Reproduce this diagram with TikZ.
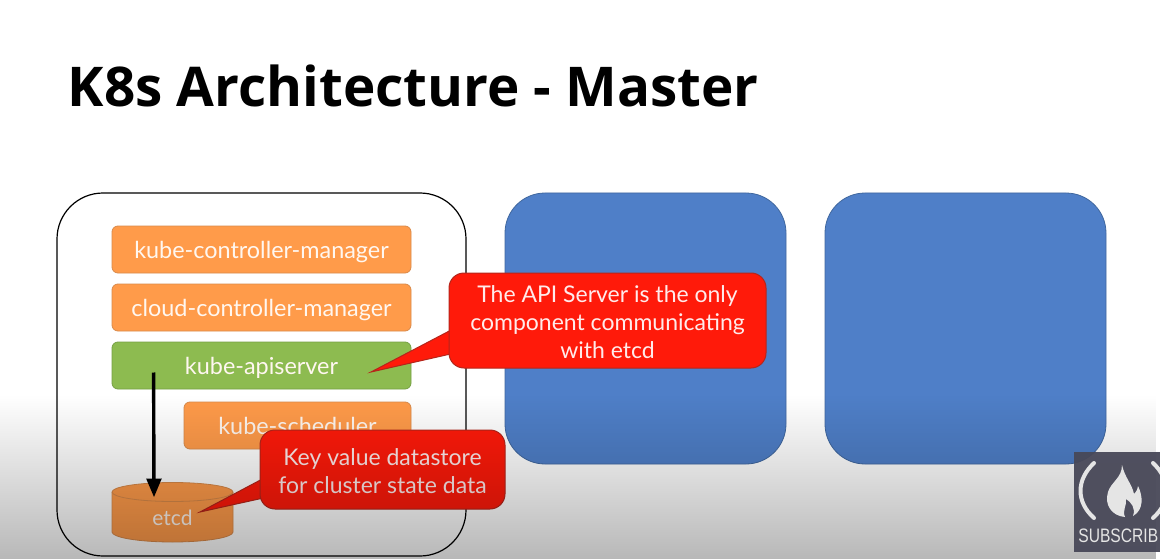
\documentclass[tikz,border=0pt]{standalone}
\usepackage{fontspec}
\setmainfont{Lato}
\newfontfamily\titlefont{Open Sans}
\newfontfamily\badgefont[FakeStretch=0.8]{Liberation Sans}
\usetikzlibrary{positioning}
\usetikzlibrary{arrows,fadings}
\definecolor{orangebox}{HTML}{FF9B4A}
\definecolor{orangeline}{HTML}{D98A4A}
\definecolor{greenbox}{HTML}{8DBB50}
\definecolor{greenline}{HTML}{76A044}
\definecolor{bluebox}{HTML}{4F7FC8}
\definecolor{blueline}{HTML}{41689F}
\definecolor{redbox}{HTML}{FF1A0A}
\definecolor{redline}{HTML}{B5261B}
\definecolor{badge}{HTML}{484858}
\tikzfading[name=fade floor, top color=transparent!100, bottom color=transparent!72]
\newcommand{\notestrut}{\rule{0pt}{20pt}}
\tikzset{%
  block/.style    = {draw=orangeline, fill=orangebox, rounded corners=6pt, inner sep=0pt,
    minimum height=47pt, minimum width=299pt, text=white!94!orange, text height=21pt, text depth=4pt,
    font=\fontsize{23.4}{28}\selectfont},
  apiblock/.style = {block, draw=greenline, fill=greenbox},
  server/.style   = {draw=blueline, fill=bluebox, rounded corners=40pt, minimum width=281pt,
    minimum height=271pt},
  master/.style   = {draw=black, line width=1.2pt, fill=white, rounded corners=46pt,
    minimum width=409pt, minimum height=363pt},
  note/.style     = {draw=redline, fill=redbox, line width=1pt, rounded corners=15pt, align=center,
    text=white!92!red, font=\fontsize{23}{28}\selectfont},
  pointer/.style  = {draw=redline, fill=redbox, line width=1pt, line join=miter},
  datastore/.style = {draw=orangeline, fill=orangebox, line width=0.8pt},
  storelabel/.style = {text=white!94!orange, font=\fontsize{21}{26}\selectfont}
}
\begin{document}
\begin{tikzpicture}[x=1pt, y=-1pt, thick, >=triangle 45]
  \useasboundingbox (0,0) rectangle (1160,559);
  \fill[white] (0,0) rectangle (1160,559);

  \draw node at (64,86) [anchor=west, font=\titlefont\bfseries\fontsize{54.8}{60}\selectfont] (title) {K8s Architecture - Master};

  \draw node at (261.5,374.5) [master] (box) {};
  \draw node at (645.5,328.5) [server] (worker) {};
  \draw node at (965.5,328.5) [server] (worker2) {};

  \draw node at (261.5,249.5) [block] (controller) {kube-controller-manager};
  \draw node [block, below=10.2pt of controller] (cloud) {cloud-controller-manager};
  \draw node [apiblock, below=10.2pt of cloud] (apiserver) {kube-apiserver};
  \draw node at (297.5,425.5) [block, minimum width=227pt] (scheduler) {kube-scheduler};

  % etcd can
  \draw[datastore] (112,492) -- (112,532) arc[start angle=180, end angle=0, x radius=60.5, y radius=10]
    -- (233,492) arc[start angle=0, end angle=-180, x radius=60.5, y radius=9.5] -- cycle;
  \draw[datastore] (112,492) arc[start angle=180, end angle=0, x radius=60.5, y radius=9.5];
  \draw node at (172.5,518) [storelabel] (etcd) {etcd};

  % arrow goes down from inside the api box
  \coordinate (apitap) at ([xshift=42pt, yshift=-7pt]apiserver.west);
  \coordinate (etcdtap) at (154,497);
  \draw[->, line width=3.4pt] (apitap) -- (etcdtap);

  % callouts
  \coordinate (apitip) at (371,372);
  \draw[pointer] (apitip) -- (455,328) -- (455,353) -- cycle;
  \draw node at (607.5,320.5) [note, minimum width=317pt, minimum height=95pt] (apinote)
    {\notestrut The API Server is the only\\component communicating\\with etcd};
  \coordinate (etcdtip) at (200,512);
  \draw[pointer] (etcdtip) -- (268,476) -- (268,497) -- cycle;
  \draw node at (382.5,469.5) [note, minimum width=245pt, minimum height=79pt] (etcdnote)
    {\notestrut Key value datastore\\for cluster state data};

  % shadow of the video at the bottom
  \fill[black, path fading=fade floor] (0,395) rectangle (1160,559);

  % logo
  \fill[badge, opacity=0.95] (1074,452) rectangle (1160,552);
  \draw[white!90!black, line width=4pt, line cap=round] (1094,463) .. controls (1076,480) and (1076,502) .. (1094,518);
  \draw[white!90!black, line width=4pt, line cap=round] (1153,463) .. controls (1171,480) and (1171,502) .. (1153,518);
  \fill[white!90!black] (1122,465) .. controls (1125,478) and (1132,484) .. (1134,494)
    .. controls (1137,491) and (1138,488) .. (1138,486)
    .. controls (1143,496) and (1144,510) .. (1133,516)
    .. controls (1136,508) and (1131,502) .. (1126,499)
    .. controls (1127,506) and (1122,510) .. (1125,517)
    .. controls (1112,516) and (1104,505) .. (1108,492)
    .. controls (1111,482) and (1122,478) .. (1122,465) -- cycle;
  \draw node at (1078,536) [anchor=west, inner sep=0pt, text=white!90!black, font=\badgefont\fontsize{19.5}{20}\selectfont] (subscribe) {SUBSCRIB};
\end{tikzpicture}
\end{document}
